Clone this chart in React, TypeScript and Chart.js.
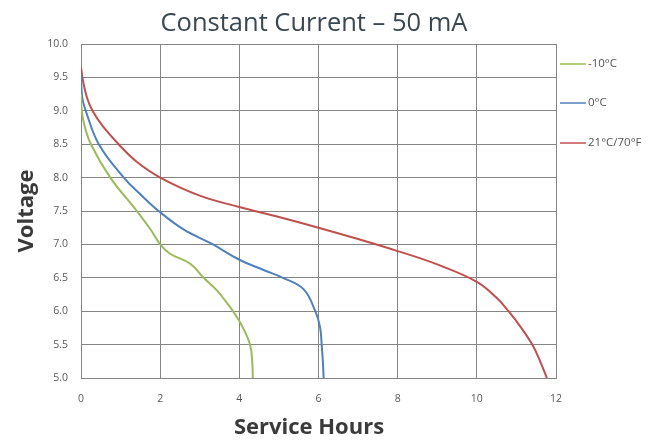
import React, { useEffect, useRef } from "react";
import { Chart, registerables } from "chart.js";

Chart.register(...registerables);

const chartTitle = "Constant Current – 50 mA";
const xAxisTitle = "Service Hours";
const yAxisTitle = "Voltage";

const seriesLabels = ["-10°C", "0°C", "21°C/70°F"];
const seriesColors = ["#9bbb59", "#4f81bd", "#c0504d"];

const coldHours = [0, 0.02, 0.08, 0.25, 0.74, 1.41, 1.75, 2.0, 2.25, 2.76, 3.1, 3.45, 3.69, 3.84, 4.05, 4.27, 4.33, 4.34];
const coldVolts = [9.25, 9.0, 8.8, 8.5, 8.0, 7.5, 7.23, 7.0, 6.86, 6.71, 6.5, 6.3, 6.12, 6.0, 5.8, 5.5, 5.2, 5.0];

const zeroHours = [0, 0.03, 0.12, 0.45, 1.08, 1.5, 1.96, 2.6, 3.3, 4, 4.6, 5.1, 5.62, 5.92, 6.04, 6.08, 6.11, 6.13];
const zeroVolts = [9.55, 9.2, 9.0, 8.5, 8.0, 7.75, 7.5, 7.22, 7.01, 6.77, 6.62, 6.5, 6.33, 6.0, 5.76, 5.5, 5.25, 5.0];

const roomHours = [0, 0.05, 0.15, 0.29, 0.55, 0.95, 1.4, 2, 3, 4, 5, 6, 7, 8, 9, 10, 10.5, 10.8, 11.1, 11.4, 11.6, 11.77];
const roomVolts = [9.65, 9.45, 9.2, 9.0, 8.77, 8.5, 8.24, 8.0, 7.73, 7.56, 7.41, 7.25, 7.08, 6.9, 6.7, 6.44, 6.2, 6.0, 5.77, 5.5, 5.25, 5.0];

const xTicks = [0, 2, 4, 6, 8, 10, 12];
const yTicks = [5.0, 5.5, 6.0, 6.5, 7.0, 7.5, 8.0, 8.5, 9.0, 9.5, 10.0];

const toPoints = (xs: number[], ys: number[]) => xs.map((x, i) => ({ x, y: ys[i] }));

const overlayPlugin = {
  id: "overlay",
  afterDraw(chart: any) {
    const ctx = chart.ctx;
    const area = chart.chartArea;
    ctx.save();
    // title
    ctx.fillStyle = "#3b4750";
    ctx.font = "25.5px 'Open Sans'";
    ctx.textAlign = "center";
    ctx.textBaseline = "alphabetic";
    ctx.fillText(chartTitle, 314, 31);
    // axis titles
    ctx.fillStyle = "#3a3a3a";
    ctx.font = "bold 22px 'Open Sans'";
    ctx.textBaseline = "middle";
    ctx.fillText(xAxisTitle, 309, 428);
    ctx.save();
    ctx.translate(27, (area.top + area.bottom) / 2);
    ctx.rotate(-Math.PI / 2);
    ctx.fillText(yAxisTitle, 0, 0);
    ctx.restore();
    // legend
    const legendYs = [64, 103, 143];
    ctx.font = "11.5px 'Open Sans'";
    ctx.textAlign = "left";
    ctx.textBaseline = "middle";
    chart.data.datasets.forEach((ds: any, i: number) => {
      const y = legendYs[i];
      ctx.strokeStyle = ds.borderColor;
      ctx.lineWidth = 1.5;
      ctx.beginPath();
      ctx.moveTo(560, y);
      ctx.lineTo(586, y);
      ctx.stroke();
      ctx.fillStyle = "#555555";
      ctx.fillText(ds.label, 588, y);
    });
    ctx.restore();
  },
};

export default function App() {
  const ref = useRef<HTMLCanvasElement>(null);
  useEffect(() => {
    if (!ref.current) return;
    const datasets = [
      toPoints(coldHours, coldVolts),
      toPoints(zeroHours, zeroVolts),
      toPoints(roomHours, roomVolts),
    ].map((data, i) => ({
      label: seriesLabels[i],
      data,
      borderColor: seriesColors[i],
      backgroundColor: seriesColors[i],
      borderWidth: 2,
      pointRadius: 0,
      tension: 0.4,
      fill: false,
    }));
    const gridColor = "#858585";
    const chart = new Chart(ref.current, {
      type: "line",
      data: { datasets },
      plugins: [overlayPlugin],
      options: {
        animation: false,
        responsive: false,
        maintainAspectRatio: false,
        layout: { padding: { top: 44, right: 106, left: 0, bottom: 0 } },
        plugins: {
          legend: { display: false },
          title: { display: false },
          tooltip: { enabled: false },
        },
        scales: {
          x: {
            type: "linear",
            min: 0,
            max: 12,
            afterBuildTicks: (axis: any) => {
              axis.ticks = xTicks.map((v) => ({ value: v }));
            },
            afterFit: (axis: any) => {
              axis.height = 62;
            },
            ticks: {
              color: "#595959",
              font: { family: "'Open Sans'", size: 10.5 },
              padding: 15,
              maxRotation: 0,
            },
            grid: { color: gridColor, lineWidth: 1, drawTicks: false },
            border: { color: gridColor, width: 1 },
          },
          y: {
            type: "linear",
            min: 5,
            max: 10,
            afterBuildTicks: (axis: any) => {
              axis.ticks = yTicks.map((v) => ({ value: v }));
            },
            afterFit: (axis: any) => {
              axis.width = 81;
            },
            ticks: {
              color: "#595959",
              font: { family: "'Open Sans'", size: 10.5 },
              padding: 13,
              callback: (v: any) => Number(v).toFixed(1),
            },
            grid: { color: gridColor, lineWidth: 1, drawTicks: false },
            border: { color: gridColor, width: 1 },
          },
        },
      },
    });
    return () => chart.destroy();
  }, []);
  return (
    <div style={{ position: "fixed", left: 0, top: 0, width: 662, height: 440, background: "#ffffff" }}>
      <canvas ref={ref} width={662} height={440} style={{ display: "block", width: 662, height: 440 }} />
    </div>
  );
}
